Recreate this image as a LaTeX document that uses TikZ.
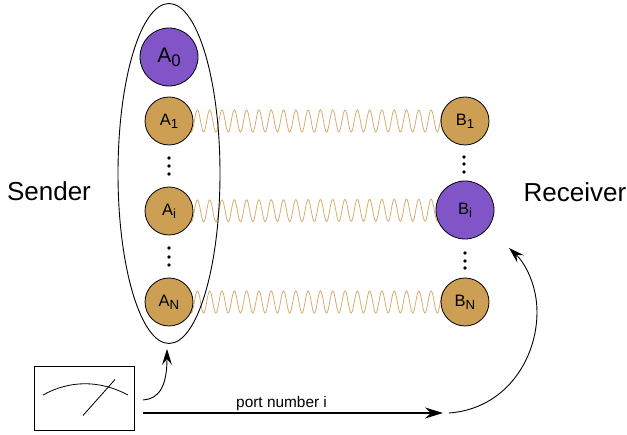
\documentclass[tikz,border=0pt]{standalone}
\usepackage{fontspec}
\setmainfont{Liberation Sans}
\usetikzlibrary{arrows.meta,decorations.pathmorphing,backgrounds}
\definecolor{gold}{HTML}{CC9F55}
\definecolor{violet}{HTML}{8155C8}
\newcommand{\lab}[2]{#1\raisebox{-0.2em}{\fontsize{0.8em}{1em}\selectfont #2}}
\tikzset{
  x=1pt,y=-1pt,
  small/.style={circle,draw=black,line width=0.8pt,fill=gold,minimum size=48pt,inner sep=0pt,outer sep=0pt,font=\fontsize{16.5}{18}\selectfont},
  big/.style={circle,draw=black,line width=0.8pt,fill=violet,minimum size=58pt,inner sep=0pt,outer sep=0pt,font=\fontsize{16.5}{18}\selectfont},
  spring/.style={draw=gold!85!white,line width=0.8pt,decorate,decoration={snake,segment length=12.3pt,amplitude=11pt}},
  dotm/.style={circle,fill=black,minimum size=3.6pt,inner sep=0pt},
  thinarrow/.style={line width=0.9pt,-{Stealth[length=16pt,width=10pt,inset=6pt]}},
  thickarrow/.style={line width=2pt,-{Stealth[length=18pt,width=11pt,inset=6pt]}},
  lbl/.style={inner sep=0pt,font=\fontsize{26}{28}\selectfont,anchor=base}
}
\begin{document}
\begin{tikzpicture}
\useasboundingbox (0,0) rectangle (627,435);
\node[small] (a1) at (169,121) {\lab{A}{1}};
\node[small] (ai) at (169,211) {\lab{A}{i}};
\node[small] (an) at (169,302) {\lab{A}{N}};
\node[small] (b1) at (465,121) {\lab{B}{1}};
\node[big]   (bi) at (465,210) {\lab{B}{i}};
\node[small] (bn) at (465,302) {\lab{B}{N}};
\node[big,font=\fontsize{21}{23}\selectfont] (a0) at (169,57) {\lab{A}{0}};
\begin{scope}[on background layer]
\draw[spring] (a1.center) -- (b1.center);
\draw[spring] (ai.center) -- (bi.center);
\draw[spring] (an.center) -- (bn.center);
\end{scope}
\draw[line width=0.9pt] (169,173.5) ellipse [x radius=51,y radius=170];
\coordinate (ebot) at (167,349);
\foreach \n/\x/\y in {p1/169/158,p2/169/166,p3/169/174,q1/169/248,q2/169/257,q3/169/265,r1/464/157,r2/464/164,r3/464/172,s1/465/253,s2/465/261,s3/465/268}{
  \node[dotm] (\n) at (\x,\y) {};
}
\node[lbl] (sender) at (49,201) {Sender};
\node[lbl] (receiver) at (575,202) {Receiver};
\node[draw=black,line width=1pt,minimum width=100pt,minimum height=64pt,inner sep=0pt,outer sep=0pt] (meter) at (84.5,399) {};
\draw[line width=0.8pt] (43,395) .. controls (70,380) and (100,380) .. (128,395);
\draw[line width=0.8pt] (83,415.5) -- (115,379.5);
\coordinate (m1) at (143,400);
\coordinate (m2) at (143,413);
\coordinate (e2) at (443,413);
\coordinate (c3) at (449,413);
\coordinate (e3) at (509,248);
\draw[thinarrow] (m1) .. controls (158,399) and (167,388) .. (ebot);
\draw[thickarrow] (m2) -- (e2);
\draw[thinarrow] (c3) .. controls (505,409) and (537,360) .. (537,312) .. controls (537,285) and (525,263) .. (e3);
\node[inner sep=0pt,font=\fontsize{15.4}{16}\selectfont,anchor=base west] (port) at (236,407.5) {port number i};
\end{tikzpicture}
\end{document}
